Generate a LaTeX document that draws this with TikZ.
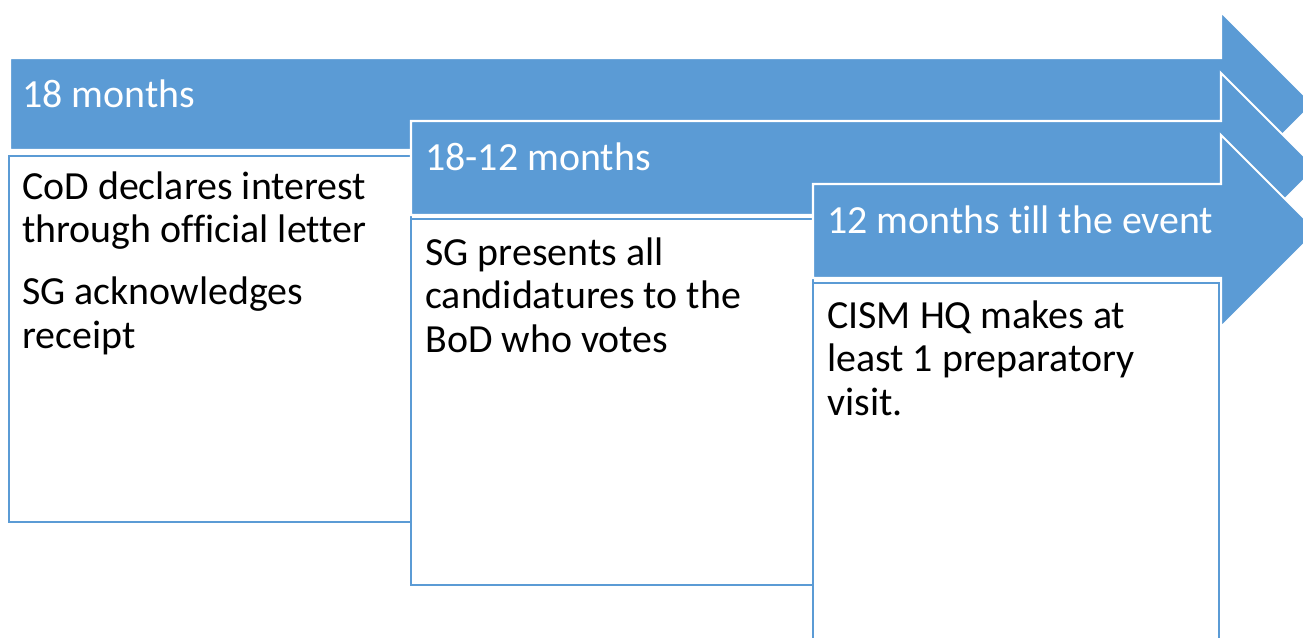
\documentclass[tikz,border=0pt]{standalone}
\usepackage{fontspec}
\setmainfont[Ligatures=NoCommon]{Carlito}
\definecolor{stageblue}{HTML}{5B9BD5}
\tikzstyle{stage arrow}=[fill=stageblue, draw=white, line width=1.2pt, line join=miter]
\tikzstyle{stage box}=[fill=white, draw=stageblue, line width=1.4pt]
\tikzstyle{head label}=[anchor=base west, inner sep=0pt, text=white, font=\fontsize{22.7}{24.5}\selectfont]
% multi-line labels sit on the baseline of their last line
\tikzstyle{body label}=[anchor=base west, inner sep=0pt, align=left, font=\fontsize{22.7}{24.5}\selectfont]

\begin{document}
\begin{tikzpicture}[x=0.02cm, y=-0.02cm]
    \clip (0,0) rectangle (1303,637);
% 18 months
    \draw[stage arrow] (10,58) -- (1221,58) -- (1221,12) -- (1313,104) -- (1221,196) -- (1221,150) -- (10,150) -- cycle;
    \draw[stage box] (9,156) rectangle (411,522);
    \node[head label] (head1) at (22,107) {18 months};
    \node[body label] (text1) at (22,348) {CoD declares interest\\through official letter\\[11pt]SG acknowledges\\receipt};
% 18-12 months
    \draw[stage arrow] (411,121) -- (1221,121) -- (1221,73) -- (1316,168) -- (1221,263) -- (1221,215) -- (411,215) -- cycle;
    \draw[stage box] (411,219) rectangle (813,585);
    \node[head label] (head2) at (425,170) {18-12 months};
    \node[body label] (text2) at (425,352) {SG presents all\\candidatures to the\\BoD who votes};
% 12 months till the event
    \draw[stage arrow] (813,184) -- (1221,184) -- (1221,135) -- (1317,231) -- (1221,327) -- (1221,278) -- (813,278) -- cycle;
    \draw[stage box] (813,283) rectangle (1219,660);
    \node[head label] (head3) at (827,233) {12 months till the event};
    \node[body label] (text3) at (827,415) {CISM HQ makes at\\least 1 preparatory\\visit.};
\end{tikzpicture}
\end{document}
